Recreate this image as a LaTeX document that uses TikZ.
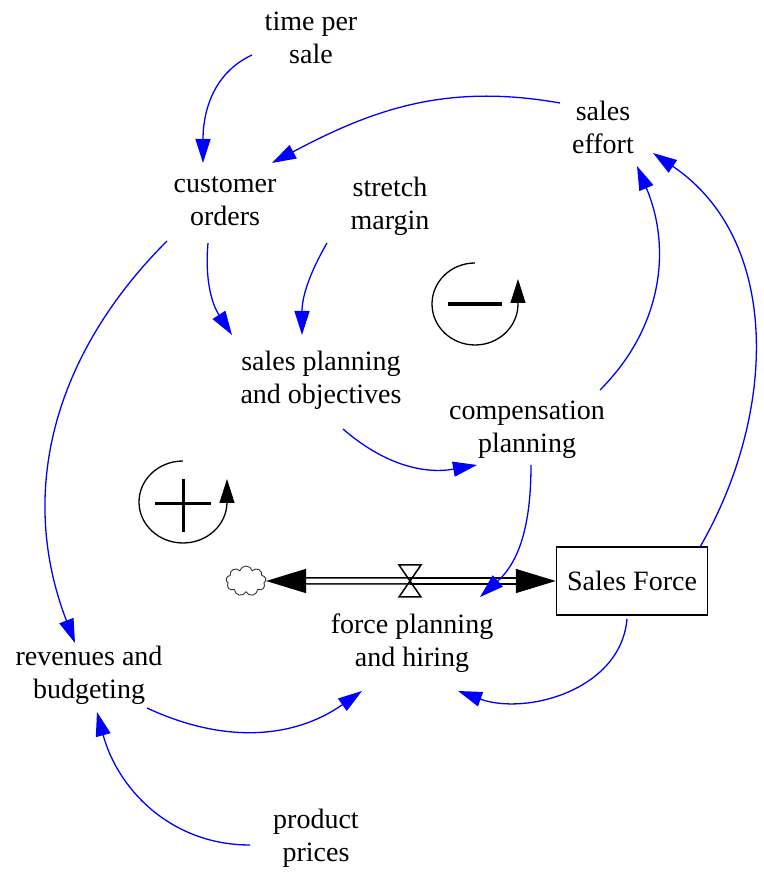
\documentclass[tikz,border=0pt]{standalone}
\usepackage{fontspec}
\setmainfont{Liberation Serif}
\usetikzlibrary{arrows.meta,shapes.symbols,positioning}

\begin{document}
\begin{tikzpicture}[x=1pt,y=1pt]
			\tikzstyle{Var}		= [align=center, inner sep=0pt, font=\fontsize{28}{33}\selectfont]
			\tikzstyle{Stock}	= [draw, line width=1.5pt, minimum width=151pt, minimum height=68pt, inner sep=0pt, font=\fontsize{28}{33}\selectfont]
			\tikzstyle{Cloud}	= [cloud, cloud puffs=9, cloud ignores aspect, draw=black!80, line width=0.9pt, minimum width=40pt, minimum height=30pt, inner sep=0pt]
			\tikzstyle{Link}	= [blue, line width=1.3pt, -{Triangle[length=24pt, width=15pt]}]
			\tikzstyle{Pipe}	= [double, double distance=4.5pt, line width=1.5pt, -{Triangle[length=40pt, width=24pt]}]
			\tikzstyle{Loop}	= [line width=1.3pt, -{Triangle[length=24pt, width=15pt]}]
			\tikzstyle{Sign}	= [line width=4pt]

			\useasboundingbox (0, 0) rectangle (763, 872);

			\node (tps) at (311, 834) [Var] {time per\\sale};
			\node (co)  at (225, 671) [Var] {customer\\orders};
			\node (sm)  at (390, 666) [Var] {stretch\\margin};
			\node (se)  at (603, 745) [Var] {sales\\effort};
			\node (spo) at (321, 492) [Var] {sales planning\\and objectives};
			\node (cp)  at (527, 442) [Var] {compensation\\planning};
			\node (fph) at (412, 229) [Var] {force planning\\and hiring};
			\node (rb)  at (89, 197)  [Var] {revenues and\\budgeting};
			\node (pp)  at (316, 34)  [Var] {product\\prices};
			\node (sf)  at (632, 291) [Stock] {Sales Force};
			\node (cl)  at (246, 291) [Cloud] {};
			\coordinate (valve) at (410, 291);

			% flow
			\draw [Pipe] (valve) to (cl.east);
			\draw [Pipe] (valve) to (sf.west);
			\draw [line width=1.5pt] (399, 307) -- (421, 307) -- (399, 275) -- (421, 275) -- cycle;

			% loop markers
			\draw [Loop] (475, 609) arc[start angle=90, end angle=360, x radius=43, y radius=41] -- ++(0, 25);
			\draw [Sign] (448, 568) to (502, 568);
			\draw [Loop] (183, 411) arc[start angle=90, end angle=360, x radius=44, y radius=41] -- ++(0, 23);
			\draw [Sign][line width=3pt] (155, 368) to (211, 368);
			\draw [Sign][line width=3pt] (183, 340) to (183, 393);

			% links
			\draw [Link] ([shift={(-59,-17)}]tps.center) to [out=205, in=90]  ([shift={(-22,38)}]co.center);
			\draw [Link] ([shift={(-43,24)}]se.center)   to [out=170, in=28]  ([shift={(47,38)}]co.center);
			\draw [Link] ([shift={(-63,-37)}]sm.center)  to [out=240, in=90]  ([shift={(-19,45)}]spo.center);
			\draw [Link] ([shift={(-17,-42)}]co.center)  to [out=265, in=123] ([shift={(-89,45)}]spo.center);
			\draw [Link] ([shift={(-58,-40)}]co.center)  to [out=225, in=111] ([shift={(-14,32)}]rb.center);
			\draw [Link] ([shift={(22,-49)}]spo.center)  to [out=319, in=190] ([shift={(-50,-35)}]cp.center);
			\draw [Link] ([shift={(73,40)}]cp.center)    to [out=45, in=293]  ([shift={(34,-39)}]se.center);
			\draw [Link] ([shift={(4,-35)}]cp.center)    to [out=270, in=42]  ([shift={(68,46)}]fph.center);
			\draw [Link] ([shift={(68,34)}]sf.center)    to [out=60, in=326]  ([shift={(50,-26)}]se.center);
			\draw [Link] ([shift={(-5,-38)}]sf.center)   to [out=265, in=340] ([shift={(46,-48)}]fph.center);
			\draw [Link] ([shift={(58,-33)}]rb.center)   to [out=335, in=215] ([shift={(-50,-48)}]fph.center);
			\draw [Link] ([shift={(-66,-7)}]pp.center)   to [out=180, in=285] ([shift={(8,-37)}]rb.center);
		\end{tikzpicture}
\end{document}
